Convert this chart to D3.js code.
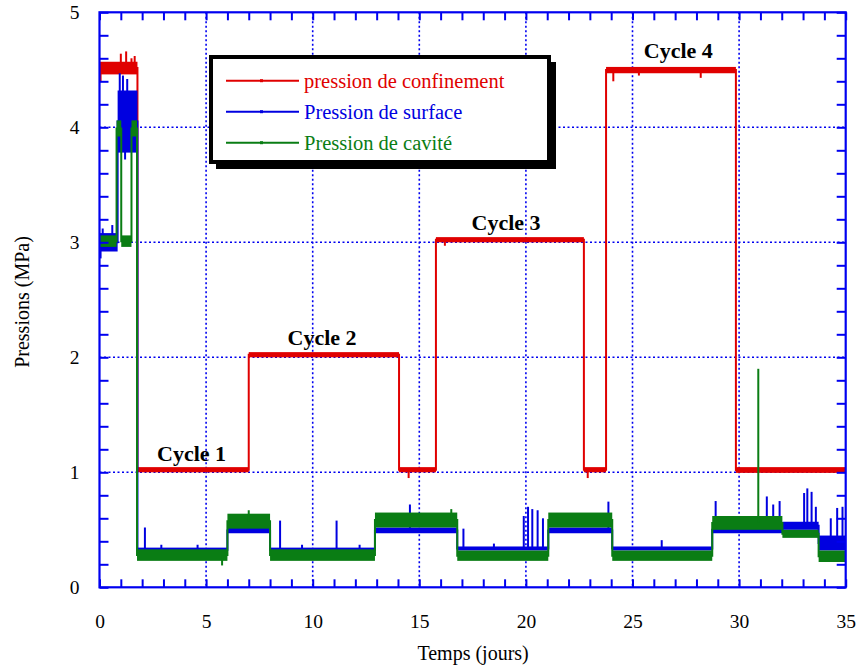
<!DOCTYPE html>
<html><head><meta charset="utf-8">
<script src="https://cdn.jsdelivr.net/npm/d3@7"></script>
<style>
html,body{margin:0;padding:0;background:#fff;}
svg text{font-family:"Liberation Serif","Times New Roman",serif;}
</style></head>
<body>
<svg id="chart" width="858" height="666"></svg>
<script>
// ---- data (t in days, pressure in MPa) ----
// segments: [t start, t end, band low, band high]
const redSegs = [
  [0, 1.78, 4.46, 4.57],
  [1.78, 7.0, 1.0, 1.045],
  [7.0, 14.05, 2.0, 2.045],
  [14.05, 15.78, 1.0, 1.045],
  [15.78, 22.72, 3.0, 3.045],
  [22.72, 23.76, 1.0, 1.045],
  [23.76, 29.85, 4.47, 4.525],
  [29.85, 35, 0.995, 1.045]
];
const redSpikes = [[0.05, 4.4], [1.0, 4.64], [1.25, 4.66], [1.5, 4.6], [1.65, 4.62], [16.2, 2.97], [24.1, 4.4], [25.3, 4.45], [28.2, 4.43], [22.9, 0.95], [14.5, 0.95]];

const blueSegs = [
  [0, 0.85, 2.92, 3.08],
  [0.85, 1.78, 3.78, 4.32],
  [1.78, 6.0, 0.31, 0.345],
  [6.0, 8.0, 0.47, 0.52],
  [8.0, 12.92, 0.31, 0.345],
  [12.92, 16.78, 0.47, 0.52],
  [16.78, 21.05, 0.32, 0.355],
  [21.05, 24.05, 0.47, 0.52],
  [24.05, 28.74, 0.32, 0.355],
  [28.74, 32.03, 0.47, 0.53],
  [32.03, 33.73, 0.5, 0.57],
  [33.73, 35, 0.32, 0.45]
];
const blueSpikes = [
  [0.05, 2.86], [0.15, 3.12], [0.6, 3.15], [0.95, 4.47], [1.1, 4.45], [1.3, 4.42], [1.45, 4.3], [1.2, 3.72],
  [2.13, 0.52], [2.9, 0.37], [4.6, 0.37], [8.47, 0.58], [9.5, 0.37], [11.12, 0.58], [12.2, 0.37],
  [14.56, 0.72], [17.07, 0.51], [18.5, 0.38], [19.9, 0.62], [20.1, 0.7], [20.3, 0.68], [20.55, 0.67],
  [20.8, 0.6], [23.87, 0.745], [26.37, 0.41], [28.9, 0.75], [29.5, 0.6], [31.3, 0.79], [31.6, 0.72],
  [31.9, 0.75], [33.05, 0.82], [33.2, 0.86], [33.4, 0.83], [33.6, 0.7], [34.3, 0.6], [34.6, 0.69], [34.85, 0.7]
];

const greenSegs = [
  [0, 0.8, 2.96, 3.06],
  [0.8, 1.02, 3.92, 4.06],
  [1.02, 1.5, 2.96, 3.06],
  [1.5, 1.76, 3.92, 4.06],
  [1.76, 6.0, 0.23, 0.33],
  [6.0, 8.0, 0.51, 0.64],
  [8.0, 12.92, 0.23, 0.33],
  [12.92, 16.78, 0.52, 0.65],
  [16.78, 21.05, 0.23, 0.32],
  [21.05, 24.05, 0.52, 0.65],
  [24.05, 28.74, 0.23, 0.32],
  [28.74, 32.03, 0.5, 0.62],
  [32.03, 33.73, 0.43, 0.5],
  [33.73, 35, 0.22, 0.32]
];
const greenSpikes = [[5.75, 0.19], [30.9, 1.9], [16.5, 0.68], [7.0, 0.67]];

const seriesNames = ["pression de confinement", "Pression de surface", "Pression de cavité"];
const seriesColors = ["#e00000", "#0000e0", "#0a7d14"];

const cycleLabels = [["Cycle 1", 4.32, 1.1], ["Cycle 2", 10.44, 2.11], ["Cycle 3", 19.07, 3.11], ["Cycle 4", 27.15, 4.6]];

const xMajorTicks = [0, 5, 10, 15, 20, 25, 30, 35];
const yMajorTicks = [0, 1, 2, 3, 4, 5];
const xTitle = "Temps (jours)";
const yTitle = "Pressions (MPa)";

// ---- drawing ----
const svg = d3.select("#chart");
const L = 99.5, R = 845.7, T = 12.3, B = 587.3;
const x = d3.scaleLinear().domain([0, 35]).range([L, R]);
const y = d3.scaleLinear().domain([0, 5]).range([B, T]);
const axisBlue = "#0000f0";

// grid
const grid = svg.append("g");
xMajorTicks.filter(d => d > 0 && d < 35).forEach(d => {
  grid.append("line").attr("x1", x(d)).attr("x2", x(d)).attr("y1", T).attr("y2", B)
    .attr("stroke", axisBlue).attr("stroke-width", 1.6).attr("stroke-dasharray", "2,2.5");
});
yMajorTicks.filter(d => d > 0 && d < 5).forEach(d => {
  grid.append("line").attr("x1", L).attr("x2", R).attr("y1", y(d)).attr("y2", y(d))
    .attr("stroke", axisBlue).attr("stroke-width", 1.6).attr("stroke-dasharray", "2,2.5");
});

// series
function drawSeries(segs, spikes, color) {
  const g = svg.append("g");
  const pts = [];
  segs.forEach(s => { const m = (s[2] + s[3]) / 2; pts.push([s[0], m], [s[1], m]); });
  g.append("path").datum(pts)
    .attr("d", d3.line().x(d => x(d[0])).y(d => y(d[1])))
    .attr("fill", "none").attr("stroke", color).attr("stroke-width", 2);
  g.selectAll("rect").data(segs).join("rect")
    .attr("x", d => x(d[0])).attr("width", d => x(d[1]) - x(d[0]))
    .attr("y", d => y(d[3])).attr("height", d => y(d[2]) - y(d[3]))
    .attr("fill", color);
  g.selectAll("line.sp").data(spikes).join("line").attr("class", "sp")
    .attr("x1", d => x(d[0])).attr("x2", d => x(d[0]))
    .attr("y1", d => { const s = segs.find(q => d[0] >= q[0] && d[0] <= q[1]); return y((s[2] + s[3]) / 2); })
    .attr("y2", d => y(d[1]))
    .attr("stroke", color).attr("stroke-width", 2);
}
drawSeries(redSegs, redSpikes, seriesColors[0]);
drawSeries(blueSegs, blueSpikes, seriesColors[1]);
drawSeries(greenSegs, greenSpikes, seriesColors[2]);

// axes (ticks inward on all four sides)
const xMinor = d3.range(0, 36, 1);
const yMinor = d3.range(0, 5.001, 0.2).map(v => +v.toFixed(1));
const fmtX = d => xMajorTicks.includes(d) ? d : "";
const fmtY = d => yMajorTicks.includes(d) ? d : "";
function styleAxis(g) {
  g.select(".domain").remove();
  g.selectAll(".tick line").attr("stroke", axisBlue).attr("stroke-width", 2);
  g.selectAll("text").attr("fill", "#000").style("font-size", "19.5px")
    .style("font-family", '"Liberation Serif","Times New Roman",serif');
}
svg.append("g").attr("transform", `translate(0,${B})`)
  .call(d3.axisBottom(x).tickValues(xMinor).tickSizeInner(-8).tickSizeOuter(0).tickPadding(27).tickFormat(fmtX))
  .call(styleAxis);
svg.append("g").attr("transform", `translate(0,${T})`)
  .call(d3.axisTop(x).tickValues(xMinor).tickSizeInner(-8).tickSizeOuter(0).tickFormat(""))
  .call(styleAxis);
svg.append("g").attr("transform", `translate(${L},0)`)
  .call(d3.axisLeft(y).tickValues(yMinor).tickSizeInner(-9).tickSizeOuter(0).tickPadding(20).tickFormat(fmtY))
  .call(styleAxis);
svg.append("g").attr("transform", `translate(${R},0)`)
  .call(d3.axisRight(y).tickValues(yMinor).tickSizeInner(-9).tickSizeOuter(0).tickFormat(""))
  .call(styleAxis);

// frame
svg.append("rect").attr("x", L).attr("y", T).attr("width", R - L).attr("height", B - T)
  .attr("fill", "none").attr("stroke", axisBlue).attr("stroke-width", 2.2);

// cycle labels
svg.selectAll("text.cyc").data(cycleLabels).join("text").attr("class", "cyc")
  .attr("x", d => x(d[1])).attr("y", d => y(d[2]))
  .attr("text-anchor", "middle").style("font-size", "22px").style("font-weight", "bold")
  .attr("fill", "#000").text(d => d[0]);

// axis titles
svg.append("text").attr("x", (L + R) / 2 + 0.5).attr("y", 660).attr("text-anchor", "middle")
  .style("font-size", "20px").attr("fill", "#000").text(xTitle);
svg.append("text").attr("transform", "translate(29,302) rotate(-90)").attr("text-anchor", "middle")
  .style("font-size", "20px").attr("fill", "#000").text(yTitle);

// legend
const lg = svg.append("g");
lg.append("rect").attr("x", 216).attr("y", 62).attr("width", 340).attr("height", 107).attr("fill", "#000");
lg.append("rect").attr("x", 211).attr("y", 57).attr("width", 338).attr("height", 105)
  .attr("fill", "#fff").attr("stroke", "#000").attr("stroke-width", 4);
seriesNames.forEach((name, i) => {
  const yy = 80.7 + i * 31;
  lg.append("line").attr("x1", 226).attr("x2", 299).attr("y1", yy).attr("y2", yy)
    .attr("stroke", seriesColors[i]).attr("stroke-width", 2);
  lg.append("rect").attr("x", 260).attr("y", yy - 1.5).attr("width", 3).attr("height", 3).attr("fill", seriesColors[i]);
  lg.append("text").attr("x", 304).attr("y", yy + 7).style("font-size", "20.5px")
    .attr("fill", seriesColors[i]).text(name);
});
</script>
</body></html>
